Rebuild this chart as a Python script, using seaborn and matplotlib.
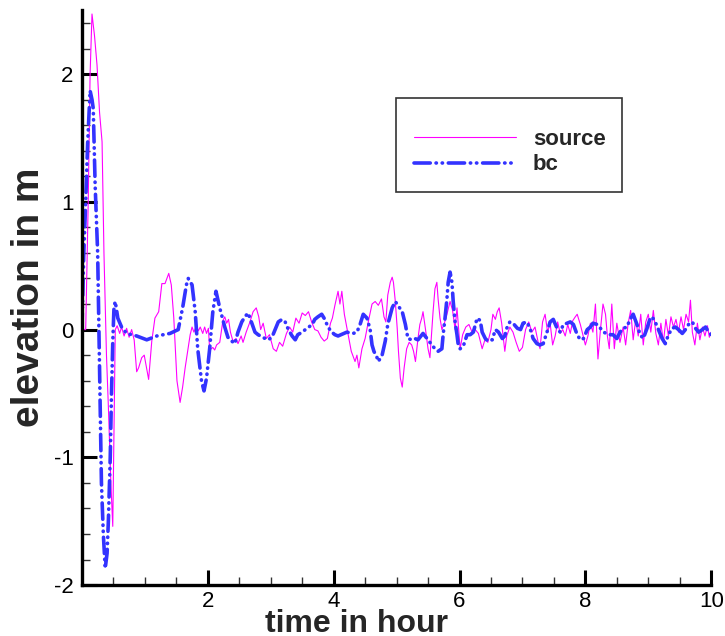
import numpy as np
import pandas as pd
import matplotlib
matplotlib.use("Agg")
import matplotlib.pyplot as plt
from matplotlib.patches import Rectangle
from matplotlib.ticker import MultipleLocator, FixedLocator
import seaborn as sns

# ---- data (time in hour, elevation in m) ----
source_t = [
    0.00, 0.06, 0.08, 0.10, 0.13, 0.16, 0.20, 0.24, 0.28, 0.32, 0.35, 0.39, 0.42, 0.46, 0.49,
    0.51, 0.53, 0.56, 0.60, 0.63, 0.67, 0.71, 0.75, 0.79, 0.83, 0.87, 0.90, 0.95, 0.99, 1.02,
    1.06, 1.11, 1.16, 1.22, 1.27, 1.32, 1.38, 1.42, 1.46, 1.51, 1.56, 1.60, 1.64, 1.72, 1.75,
    1.78, 1.82, 1.85, 1.88, 1.92, 1.95, 1.98, 2.01, 2.03, 2.08, 2.11, 2.14, 2.19, 2.24, 2.27,
    2.30, 2.33, 2.36, 2.40, 2.45, 2.48, 2.53, 2.56, 2.61, 2.67, 2.72, 2.77, 2.81, 2.84, 2.88,
    2.93, 2.98, 3.04, 3.09, 3.14, 3.19, 3.25, 3.30, 3.35, 3.40, 3.45, 3.50, 3.55, 3.60, 3.65,
    3.70, 3.75, 3.80, 3.85, 3.90, 3.95, 3.98, 4.02, 4.07, 4.10, 4.13, 4.17, 4.23, 4.28, 4.34,
    4.37, 4.40, 4.45, 4.50, 4.55, 4.61, 4.66, 4.71, 4.76, 4.80, 4.83, 4.86, 4.90, 4.93, 4.95,
    4.98, 5.01, 5.03, 5.06, 5.09, 5.12, 5.16, 5.20, 5.24, 5.27, 5.30, 5.34, 5.37, 5.40, 5.42,
    5.46, 5.50, 5.53, 5.58, 5.61, 5.64, 5.66, 5.69, 5.72, 5.76, 5.80, 5.85, 5.89, 5.93, 5.96,
    6.01, 6.05, 6.10, 6.15, 6.20, 6.25, 6.30, 6.36, 6.41, 6.45, 6.50, 6.53, 6.57, 6.60, 6.63,
    6.67, 6.72, 6.75, 6.80, 6.85, 6.90, 6.95, 7.00, 7.05, 7.10, 7.15, 7.20, 7.25, 7.28, 7.32,
    7.36, 7.40, 7.44, 7.48, 7.52, 7.56, 7.60, 7.64, 7.68, 7.72, 7.76, 7.80, 7.84, 7.87, 7.92,
    7.96, 8.00, 8.04, 8.08, 8.12, 8.16, 8.20, 8.24, 8.28, 8.32, 8.35, 8.38, 8.42, 8.46, 8.50,
    8.55, 8.60, 8.64, 8.68, 8.72, 8.76, 8.80, 8.84, 8.88, 8.92, 8.96, 9.00, 9.04, 9.08, 9.12,
    9.16, 9.20, 9.24, 9.28, 9.32, 9.36, 9.40, 9.44, 9.48, 9.52, 9.56, 9.60, 9.64, 9.67, 9.70,
    9.74, 9.78, 9.82, 9.86, 9.90, 9.94, 9.97, 10.00,
]
source_y = [
    0.00, 0.00, 0.50, 1.00, 2.00, 2.47, 2.30, 2.07, 1.70, 1.47, 0.60, -0.20, -0.60, -1.20, -1.54,
    -0.80, 0.00, 0.03, -0.03, 0.02, -0.05, 0.01, -0.06, 0.00, -0.08, -0.33, -0.30, -0.22, -0.20, -0.28,
    -0.39, -0.09, 0.09, 0.14, 0.36, 0.36, 0.44, 0.35, 0.09, -0.40, -0.57, -0.45, -0.30, -0.04, 0.02,
    -0.02, 0.03, -0.01, 0.02, -0.03, 0.02, -0.03, 0.01, -0.16, -0.14, -0.16, -0.12, -0.10, 0.07, 0.10,
    0.05, 0.08, -0.02, -0.09, -0.07, -0.11, -0.05, -0.10, -0.02, 0.06, 0.14, 0.17, 0.10, 0.00, 0.05,
    -0.07, -0.04, -0.15, -0.17, -0.10, -0.13, -0.03, 0.02, -0.02, 0.09, 0.05, 0.13, 0.11, 0.14, 0.06,
    0.00, -0.01, -0.06, -0.09, -0.07, 0.05, 0.09, 0.19, 0.30, 0.20, 0.30, 0.12, -0.04, -0.17, -0.25,
    -0.20, -0.30, -0.15, -0.07, 0.06, 0.20, 0.22, 0.19, 0.24, 0.10, 0.06, 0.27, 0.37, 0.41, 0.37,
    0.22, 0.01, -0.17, -0.38, -0.45, -0.30, -0.15, -0.10, -0.12, -0.17, -0.25, -0.07, 0.04, 0.09, 0.14,
    0.00, -0.15, -0.22, 0.14, 0.32, 0.37, 0.24, 0.09, 0.00, 0.05, 0.12, 0.22, 0.15, 0.00, 0.17,
    -0.15, -0.04, 0.02, 0.04, -0.02, 0.00, -0.03, -0.15, -0.07, -0.10, 0.00, 0.12, 0.08, 0.14, 0.17,
    0.05, -0.17, -0.05, 0.02, -0.02, -0.10, -0.17, -0.14, 0.00, 0.06, -0.02, 0.02, -0.10, -0.15, 0.06,
    0.12, -0.02, 0.05, -0.12, -0.05, 0.06, -0.03, 0.00, -0.05, 0.04, -0.03, 0.07, 0.10, 0.12, 0.04,
    -0.04, -0.12, -0.05, 0.05, -0.02, 0.20, -0.23, 0.00, 0.20, 0.12, -0.05, -0.15, 0.20, -0.15, 0.05,
    -0.10, 0.02, -0.12, 0.05, 0.15, -0.08, 0.08, -0.05, 0.12, -0.12, 0.06, 0.12, -0.02, 0.15, -0.03,
    -0.12, 0.05, -0.10, 0.08, -0.05, 0.10, 0.02, 0.08, -0.02, 0.10, 0.00, 0.12, 0.06, 0.23, -0.02,
    -0.12, 0.05, -0.08, 0.02, -0.05, 0.03, -0.06, -0.02,
]

bc_t = [
    0.00, 0.03, 0.06, 0.09, 0.13, 0.16, 0.18, 0.21, 0.25, 0.27, 0.29, 0.31, 0.34, 0.37, 0.40,
    0.42, 0.45, 0.47, 0.49, 0.51, 0.53, 0.57, 0.63, 0.71, 0.87, 1.03, 1.19, 1.40, 1.53, 1.60,
    1.66, 1.69, 1.75, 1.80, 1.84, 1.90, 1.94, 1.98, 2.03, 2.08, 2.13, 2.19, 2.27, 2.32, 2.38,
    2.43, 2.48, 2.54, 2.59, 2.64, 2.70, 2.75, 2.80, 2.91, 2.96, 3.02, 3.07, 3.12, 3.18, 3.23,
    3.28, 3.34, 3.39, 3.43, 3.50, 3.55, 3.66, 3.70, 3.75, 3.81, 3.86, 3.91, 3.97, 4.02, 4.07,
    4.21, 4.31, 4.37, 4.42, 4.47, 4.53, 4.58, 4.61, 4.64, 4.69, 4.71, 4.77, 4.82, 4.86, 4.93,
    4.98, 5.02, 5.09, 5.14, 5.18, 5.24, 5.29, 5.34, 5.42, 5.50, 5.56, 5.61, 5.66, 5.72, 5.74,
    5.77, 5.80, 5.82, 5.85, 5.88, 5.90, 5.93, 5.96, 5.98, 6.01, 6.06, 6.12, 6.17, 6.22, 6.28,
    6.33, 6.36, 6.41, 6.45, 6.52, 6.57, 6.62, 6.68, 6.72, 6.75, 6.80, 6.85, 6.92, 6.97, 7.01,
    7.07, 7.12, 7.17, 7.23, 7.28, 7.33, 7.39, 7.44, 7.49, 7.55, 7.60, 7.65, 7.71, 7.76, 7.81,
    7.87, 7.92, 7.97, 8.03, 8.08, 8.12, 8.19, 8.24, 8.29, 8.37, 8.44, 8.50, 8.55, 8.60, 8.66,
    8.71, 8.76, 8.82, 8.87, 8.92, 8.98, 9.03, 9.06, 9.11, 9.16, 9.22, 9.27, 9.32, 9.38, 9.43,
    9.48, 9.54, 9.59, 9.64, 9.70, 9.75, 9.80, 9.86, 9.91, 9.96, 10.00,
]
bc_y = [
    0.00, 0.60, 1.00, 1.45, 1.87, 1.80, 1.73, 1.13, 0.60, 0.00, -0.60, -1.20, -1.60, -1.87, -1.75,
    -1.50, -1.00, -0.50, -0.10, 0.18, 0.22, 0.09, 0.02, -0.03, -0.05, -0.08, -0.05, -0.03, 0.00, 0.17,
    0.35, 0.40, 0.35, 0.14, -0.15, -0.40, -0.48, -0.38, -0.15, 0.14, 0.30, 0.17, 0.02, -0.06, -0.09,
    -0.11, -0.02, 0.06, 0.10, 0.13, 0.05, -0.02, -0.04, -0.07, -0.08, -0.06, 0.00, 0.06, 0.08, 0.06,
    0.00, -0.05, -0.08, -0.04, -0.02, 0.00, 0.04, 0.08, 0.10, 0.12, 0.08, 0.02, -0.02, -0.04, -0.05,
    -0.02, -0.03, -0.02, 0.04, 0.12, 0.09, 0.00, -0.12, -0.17, -0.22, -0.25, -0.20, -0.09, 0.04, 0.17,
    0.22, 0.19, 0.14, 0.04, -0.07, -0.08, -0.07, -0.08, -0.03, -0.08, -0.12, -0.15, -0.17, -0.15, -0.04,
    0.09, 0.24, 0.37, 0.45, 0.37, 0.22, 0.06, -0.04, -0.12, -0.15, -0.13, -0.04, -0.04, -0.02, 0.09,
    0.07, -0.02, -0.07, -0.09, -0.08, 0.00, -0.02, -0.07, -0.05, 0.01, 0.06, 0.05, 0.01, 0.00, 0.05,
    0.06, 0.01, -0.07, -0.11, -0.12, -0.11, -0.02, 0.06, 0.08, 0.01, -0.02, 0.04, 0.05, 0.06, 0.04,
    -0.04, -0.08, -0.07, 0.00, 0.02, 0.05, 0.04, 0.01, -0.02, -0.04, -0.04, -0.07, -0.02, 0.01, 0.02,
    0.08, 0.12, 0.04, -0.04, -0.07, 0.01, 0.09, 0.10, 0.06, 0.00, -0.07, -0.11, -0.04, 0.01, 0.02,
    0.00, -0.03, 0.00, 0.04, 0.06, 0.01, -0.02, 0.00, 0.02, -0.02, -0.04,
]

x_ticks = [2, 4, 6, 8, 10]
y_ticks = [-2, -1, 0, 1, 2]

sns.set_theme(style="white")
plt.rcParams["font.family"] = ["Liberation Sans", "DejaVu Sans"]
plt.rcParams["axes.unicode_minus"] = False

fig = plt.figure(figsize=(7.25, 6.36), dpi=100)
ax = fig.add_axes([0.113, 0.080, 0.868, 0.904])

sns.lineplot(x=source_t, y=source_y, ax=ax, color="#ff00ff", lw=0.8,
             label="source", sort=False, estimator=None)
sns.lineplot(x=bc_t, y=bc_y, ax=ax, color="#3333ff", lw=2.6,
             label="bc", sort=False, estimator=None,
             linestyle=(0, (4.5, 1.6, 0.1, 1.6, 0.1, 1.6)), dash_capstyle="round")

ax.set_xlim(0, 10)
ax.set_ylim(-2, 2.5)
ax.xaxis.set_major_locator(FixedLocator(x_ticks))
ax.yaxis.set_major_locator(FixedLocator(y_ticks))
ax.xaxis.set_minor_locator(MultipleLocator(0.5))
ax.yaxis.set_minor_locator(MultipleLocator(0.2))
ax.tick_params(which="major", direction="in", length=11, width=2.2, labelsize=16,
               colors="black", pad=6, left=True, bottom=True)
ax.tick_params(axis="x", which="major", pad=4.5)
ax.tick_params(which="minor", direction="in", length=6, width=1.0, color="#333333",
               left=True, bottom=True)

for side in ["top", "right"]:
    ax.spines[side].set_visible(False)
for side in ["left", "bottom"]:
    ax.spines[side].set_linewidth(2.4)
    ax.spines[side].set_color("black")

# axis titles, placed by their baselines
ax.set_xlabel("time in hour", fontsize=23, fontweight="bold")
ax.xaxis.label.set_va("baseline")
ax.xaxis.set_label_coords(0.4356, -0.0818)
ax.set_ylabel("elevation in m", fontsize=28, fontweight="bold")
ax.yaxis.label.set_va("baseline")
ax.yaxis.set_label_coords(-0.0684, 0.5)

# legend: framed box drawn separately, entries placed inside it
fig.patches.append(Rectangle((396 / 725, 1 - 192 / 636), 226 / 725, 94 / 636,
                             transform=fig.transFigure, fill=False,
                             edgecolor="#333333", lw=1.2))
leg = ax.legend(loc="upper left", bbox_to_anchor=(394 / 725, 1 - 109 / 636),
                bbox_transform=fig.transFigure, frameon=False, handlelength=4.6,
                handletextpad=0.75, labelspacing=0.2,
                prop={"weight": "bold", "size": 16})

fig.savefig("out.png", dpi=100)
